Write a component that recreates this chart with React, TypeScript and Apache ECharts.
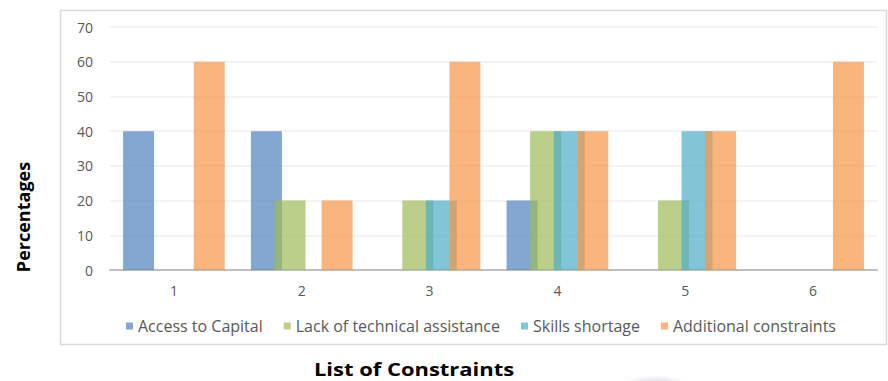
import React, { useEffect, useRef } from "react";
import * as echarts from "echarts";

const categories = ["1", "2", "3", "4", "5", "6"];
const accessToCapital = [40, 40, 0, 20, 0, 0];
const lackOfTechnicalAssistance = [0, 20, 20, 40, 20, 0];
const skillsShortage = [0, 0, 20, 40, 40, 0];
const additionalConstraints = [60, 20, 60, 40, 40, 60];
const yTicks = [0, 10, 20, 30, 40, 50, 60, 70];

const seriesDefs = [
  { name: "Access to Capital", data: accessToCapital, color: "#4F81BD" },
  { name: "Lack of technical assistance", data: lackOfTechnicalAssistance, color: "#9BBB59" },
  { name: "Skills shortage", data: skillsShortage, color: "#4BACC6" },
  { name: "Additional constraints", data: additionalConstraints, color: "#F79646" },
];

const FONT = "'Open Sans', 'Liberation Sans', sans-serif";

export default function App() {
  const ref = useRef<HTMLDivElement>(null);

  useEffect(() => {
    if (!ref.current) return;
    const chart = echarts.init(ref.current, undefined, { renderer: "svg" });
    chart.setOption({
      animation: false,
      backgroundColor: "#ffffff",
      grid: { left: 110, right: 11, top: 27, bottom: 111, containLabel: false },
      graphic: [
        {
          type: "rect",
          shape: { x: 60.5, y: 10.5, width: 826, height: 334 },
          style: { fill: "none", stroke: "#d9d9d9", lineWidth: 1.5 },
          z: -1,
        },
        {
          type: "ellipse",
          shape: { cx: 655, cy: 392, rx: 42, ry: 17 },
          style: {
            fill: new echarts.graphic.RadialGradient(0.5, 0.5, 0.5, [
              { offset: 0, color: "rgba(140,145,158,0.8)" },
              { offset: 0.6, color: "rgba(160,165,175,0.35)" },
              { offset: 1, color: "rgba(170,175,185,0)" },
            ]),
          },
          z: -1,
        },
        {
          type: "text",
          x: 23,
          y: 217,
          rotation: Math.PI / 2,
          style: {
            text: "Percentages",
            font: `bold 18px 'Open Sans', sans-serif`,
            fill: "#000000",
            align: "center",
            verticalAlign: "middle",
          },
        },
        {
          type: "text",
          x: 414,
          y: 369,
          scaleX: 1.22,
          style: {
            text: "List of Constraints",
            font: `bold 18px 'Open Sans', sans-serif`,
            lineHeight: 18,
            fill: "#000000",
            align: "center",
            verticalAlign: "middle",
          },
        },
      ],
      legend: {
        top: 313,
        left: 121,
        icon: "rect",
        itemWidth: 7,
        itemHeight: 7,
        itemGap: 21,
        textStyle: { color: "#595959", fontSize: 16, lineHeight: 16, fontFamily: FONT },
        data: seriesDefs.map((s) => s.name),
      },
      xAxis: {
        type: "category",
        data: categories,
        axisLine: { lineStyle: { color: "#bfbfbf", width: 2 } },
        axisTick: { show: false },
        axisLabel: { color: "#595959", fontSize: 14, fontFamily: FONT, margin: 13 },
      },
      yAxis: {
        type: "value",
        min: yTicks[0],
        max: yTicks[yTicks.length - 1],
        interval: 10,
        axisLine: { show: false },
        axisTick: { show: false },
        splitLine: { lineStyle: { color: "#efefef", width: 1.5 } },
        axisLabel: { color: "#595959", fontSize: 14, fontFamily: FONT, margin: 17 },
      },
      series: seriesDefs.map((s) => ({
        name: s.name,
        type: "bar",
        data: s.data,
        barWidth: 31,
        barGap: "-24%",
        itemStyle: { color: s.color, opacity: 0.7 },
      })),
    });
    return () => chart.dispose();
  }, []);

  return (
    <div
      ref={ref}
      style={{ position: "fixed", left: 0, top: 0, width: 888, height: 381 }}
    />
  );
}
